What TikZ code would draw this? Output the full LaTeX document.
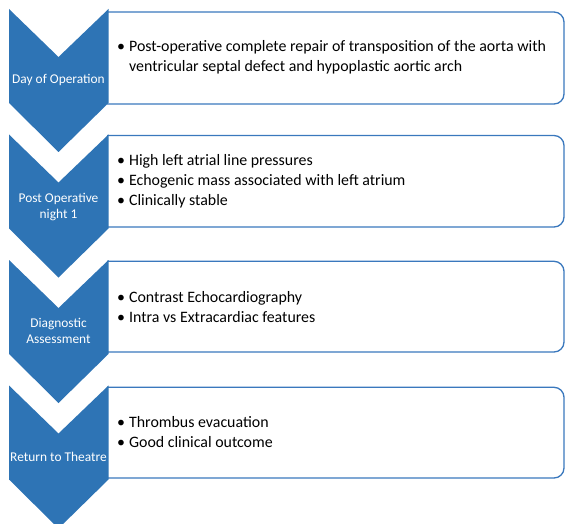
\documentclass[tikz,border=0pt]{standalone}
\usepackage{fontspec}
\setmainfont{Carlito}
\definecolor{chevblue}{HTML}{2E74B5}
\definecolor{boxblue}{HTML}{3A78BD}
\tikzset{
  chevlabel/.style={text=white, font=\fontsize{13.4}{15.5}\selectfont, align=center, inner sep=0pt},
  boxtext/.style={text=black, font=\fontsize{15.9}{20.2}\selectfont, align=left, anchor=west, inner sep=0pt},
  boxline/.style={draw=boxblue, line width=1.3pt, fill=white, rounded corners=10pt},
  chevfill/.style={fill=chevblue},
}
\newcommand{\mychev}[1]{%
  \begin{scope}[shift={(0,#1)}]
  \path[chevfill] (9,0) -- (58.5,48) -- (108.5,0) -- (108.5,94) -- (58.5,143) -- (9,94) -- cycle;
  \end{scope}
}
\newcommand{\mybox}[2]{%
  \path[boxline] (107,#1) -- (564,#1) -- (564,#2) -- (107,#2);
}
\begin{document}
\begin{tikzpicture}[x=1pt,y=-1pt]
\useasboundingbox (0,0) rectangle (565,524);
\clip (0,0) rectangle (565,524);
% boxes
\mybox{12}{104}
\mybox{135.5}{227}
\mybox{261.3}{352}
\mybox{387.3}{478}
% chevrons
\mychev{9}
\mychev{134.5}
\mychev{260}
\mychev{385.5}
% chevron labels
\node[chevlabel] (c1) at (58.5,80) {Day of Operation};
\node[chevlabel] (c2) at (58.5,207) {Post Operative\\night 1};
\node[chevlabel] (c3) at (58.5,331) {Diagnostic\\Assessment};
\node[chevlabel] (c4) at (58.5,457) {Return to Theatre};
% box texts
\node[boxtext] (t1) at (117,57) {\textbullet\hspace{4pt}Post-operative complete repair of transposition of the aorta with\\\hphantom{\textbullet\hspace{4pt}}ventricular septal defect and hypoplastic aortic arch};
\node[boxtext] (t2) at (117,181) {\textbullet\hspace{4pt}High left atrial line pressures\\\textbullet\hspace{4pt}Echogenic mass associated with left atrium\\\textbullet\hspace{4pt}Clinically stable};
\node[boxtext] (t3) at (117,307) {\textbullet\hspace{4pt}Contrast Echocardiography\\\textbullet\hspace{4pt}Intra vs Extracardiac features};
\node[boxtext] (t4) at (117,432) {\textbullet\hspace{4pt}Thrombus evacuation\\\textbullet\hspace{4pt}Good clinical outcome};
\end{tikzpicture}
\end{document}
